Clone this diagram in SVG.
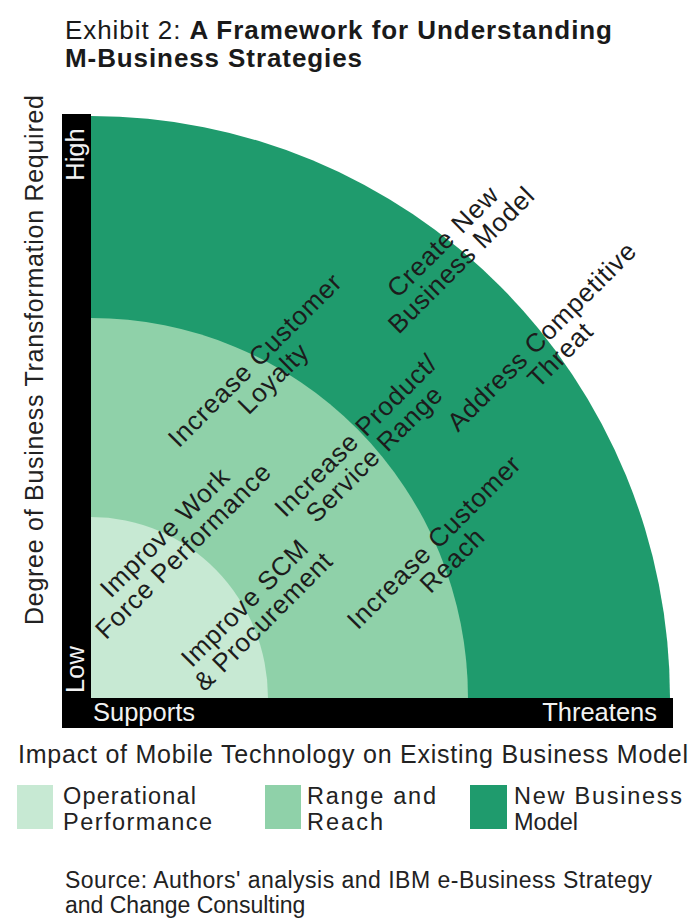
<svg xmlns="http://www.w3.org/2000/svg" width="698" height="919" viewBox="0 0 698 919">
  <style>
    .title { font-family: "Liberation Sans", Arial, sans-serif; font-size: 26px; fill: #1a1a1a; }
    .bold { font-weight: bold; }
    .axis { font-family: "Liberation Sans", Arial, sans-serif; font-size: 25px; fill: #222; }
    .bar-text { font-family: "Liberation Sans", Arial, sans-serif; font-size: 25.5px; fill: #f2f2f2; }
    .lbl { font-family: "Liberation Sans", Arial, sans-serif; font-size: 26px; fill: #1c1c1c; text-anchor: middle; letter-spacing: 0.8px; }
    .legend { font-family: "Liberation Sans", Arial, sans-serif; font-size: 23.5px; fill: #222; }
    .source { font-family: "Liberation Sans", Arial, sans-serif; font-size: 23px; fill: #222; }
    .new-model { fill: #1f9b6d; }
    .range { fill: #8fd1a9; }
    .ops { fill: #c7e9d3; }
  </style>

  <rect width="698" height="919" fill="#ffffff"/>

  <!-- Heading -->
  <g id="title">
    <text class="title" x="65" y="39" textLength="547">Exhibit 2: <tspan class="bold">A Framework for Understanding</tspan></text>
    <text class="title bold" x="65" y="67" textLength="297">M-Business Strategies</text>
  </g>

  <!-- Concentric bands, centred on the inner corner of the axes -->
  <g id="bands">
    <path id="band-new-model" class="new-model" d="M91,698 L91,116 A579,582 0 0 1 670,698 Z"/>
    <path id="band-range" class="range" d="M91,698 L91,318 A377,380 0 0 1 468,698 Z"/>
    <path id="band-ops" class="ops" d="M91,698 L91,517 A177,181 0 0 1 268,698 Z"/>
  </g>

  <!-- Axis bars -->
  <g id="axes">
    <rect x="62" y="114" width="29" height="614" fill="#000"/>
    <rect x="62" y="698" width="611" height="30" fill="#000"/>
    <text class="bar-text" transform="translate(84,154.5) rotate(-90)" text-anchor="middle">High</text>
    <text class="bar-text" transform="translate(84,669.5) rotate(-90)" text-anchor="middle">Low</text>
    <text class="bar-text" x="93" y="721">Supports</text>
    <text class="bar-text" x="657" y="721" text-anchor="end">Threatens</text>
  </g>

  <g id="y-axis-title">
    <text class="axis" transform="translate(43,360) rotate(-90)" text-anchor="middle" textLength="530">Degree of Business Transformation Required</text>
  </g>
  <g id="x-axis-title">
    <text class="axis" x="18" y="763" textLength="670">Impact of Mobile Technology on Existing Business Model</text>
  </g>

  <!-- Strategy labels, set on the diagonal -->
  <g id="label-customer-loyalty" transform="translate(264,369) rotate(-45)">
    <text class="lbl" y="-4">Increase Customer</text>
    <text class="lbl" y="22">Loyalty</text>
  </g>
  <g id="label-new-business-model" transform="translate(452,250.5) rotate(-45)">
    <text class="lbl" y="-4">Create New</text>
    <text class="lbl" y="22">Business Model</text>
  </g>
  <g id="label-competitive-threat" transform="translate(551,345.5) rotate(-45)">
    <text class="lbl" y="-4">Address Competitive</text>
    <text class="lbl" y="22">Threat</text>
  </g>
  <g id="label-product-range" transform="translate(365,444.5) rotate(-45)">
    <text class="lbl" y="-4">Increase Product/</text>
    <text class="lbl" y="22">Service Range</text>
  </g>
  <g id="label-work-force" transform="translate(174,541.5) rotate(-45)">
    <text class="lbl" y="-4">Improve Work</text>
    <text class="lbl" y="22">Force Performance</text>
  </g>
  <g id="label-scm" transform="translate(254,612) rotate(-45)">
    <text class="lbl" y="-4">Improve SCM</text>
    <text class="lbl" y="22">&amp; Procurement</text>
  </g>
  <g id="label-customer-reach" transform="translate(443,551) rotate(-45)">
    <text class="lbl" y="-4">Increase Customer</text>
    <text class="lbl" y="22">Reach</text>
  </g>

  <!-- Key -->
  <g id="legend">
    <g id="legend-ops">
      <rect class="ops" x="17" y="785" width="36" height="44"/>
      <text class="legend" x="63" y="803.5" textLength="133">Operational</text>
      <text class="legend" x="63" y="829.8" textLength="149">Performance</text>
    </g>
    <g id="legend-range">
      <rect class="range" x="265" y="785" width="36" height="44"/>
      <text class="legend" x="307" y="803.5" textLength="129">Range and</text>
      <text class="legend" x="307" y="829.8" textLength="76">Reach</text>
    </g>
    <g id="legend-new-model">
      <rect class="new-model" x="470" y="785" width="37" height="44"/>
      <text class="legend" x="514" y="803.5" textLength="168">New Business</text>
      <text class="legend" x="514" y="829.8" textLength="64">Model</text>
    </g>
  </g>

  <g id="source">
    <text class="source" x="65" y="888" textLength="587">Source: Authors' analysis and IBM e-Business Strategy</text>
    <text class="source" x="65" y="913">and Change Consulting</text>
  </g>
</svg>
